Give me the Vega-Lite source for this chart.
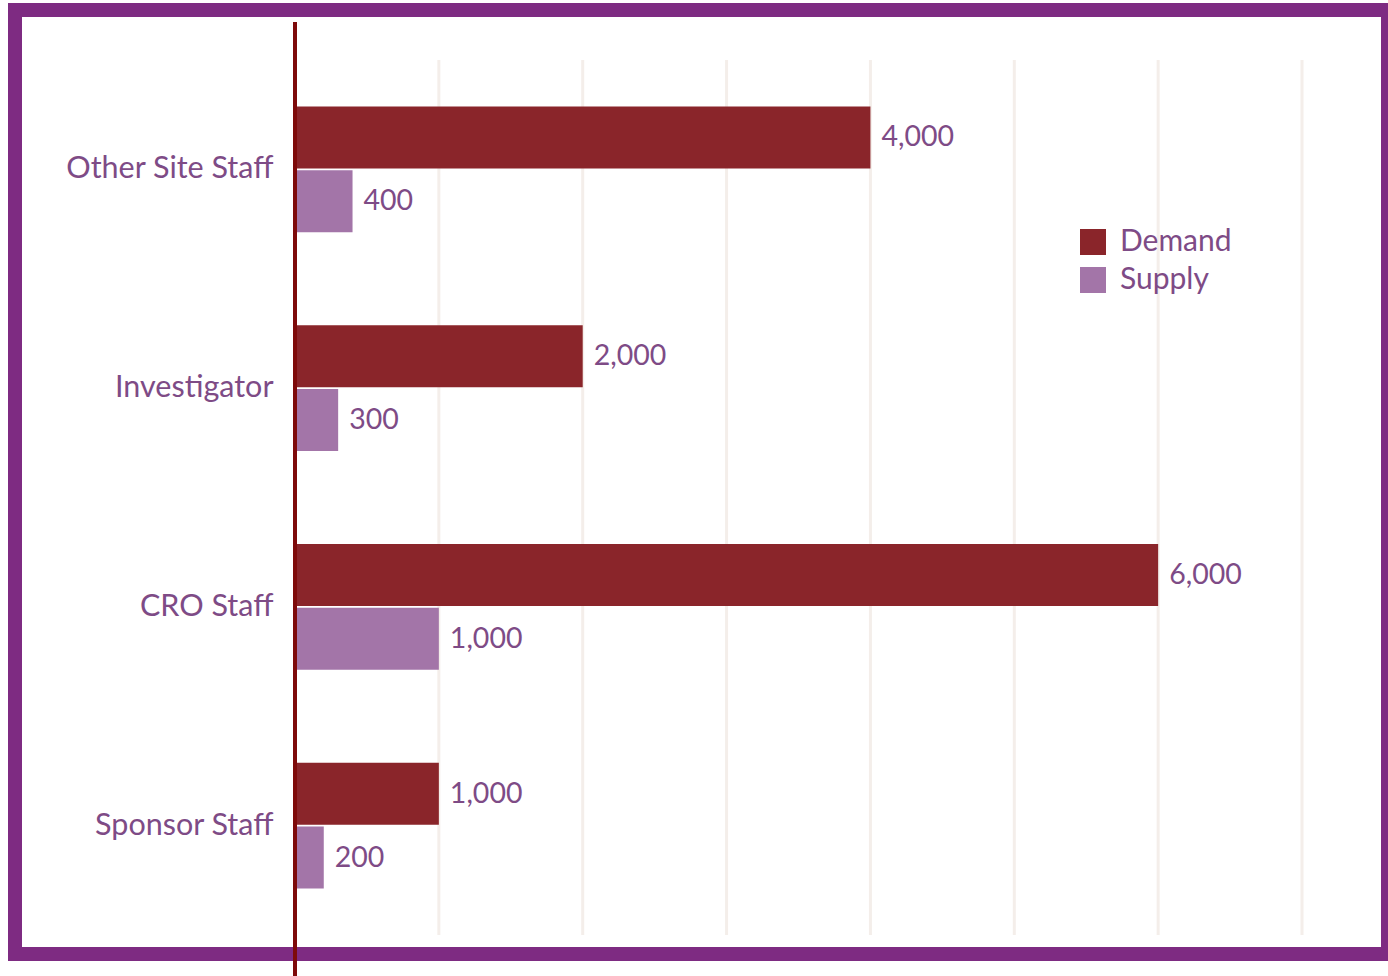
{
  "$schema": "https://vega.github.io/schema/vega-lite/v6.json",
  "autosize": {"type": "none"},
  "width": 1373,
  "height": 944,
  "padding": {"left": 15, "top": 10, "right": 0, "bottom": 22},
  "background": "white",
  "config": {
    "view": {"stroke": "#7E2B82", "strokeWidth": 14},
    "font": "Lato"
  },
  "datasets": {
    "bars": [
      {"role": "Other Site Staff", "series": "Demand", "value": 4000},
      {"role": "Other Site Staff", "series": "Supply", "value": 400},
      {"role": "Investigator", "series": "Demand", "value": 2000},
      {"role": "Investigator", "series": "Supply", "value": 300},
      {"role": "CRO Staff", "series": "Demand", "value": 6000},
      {"role": "CRO Staff", "series": "Supply", "value": 1000},
      {"role": "Sponsor Staff", "series": "Demand", "value": 1000},
      {"role": "Sponsor Staff", "series": "Supply", "value": 200}
    ],
    "grid": [
      {"v": 1000}, {"v": 2000}, {"v": 3000}, {"v": 4000}, {"v": 5000}, {"v": 6000}, {"v": 7000}
    ],
    "zero": [{"v": 0}]
  },
  "resolve": {"scale": {"y": "independent"}, "axis": {"y": "independent"}},
  "layer": [
    {
      "data": {"name": "grid"},
      "mark": {"type": "rule", "color": "#F4EEEA", "strokeWidth": 3},
      "encoding": {
        "x": {"field": "v", "type": "quantitative", "scale": {"domain": [0, 7000], "range": [280, 1287]}, "axis": null},
        "y": {"datum": 0.053, "type": "quantitative", "scale": {"domain": [0, 1], "reverse": true, "nice": false, "zero": false}, "axis": null},
        "y2": {"datum": 0.98}
      }
    },
    {
      "data": {"name": "bars"},
      "layer": [
        {
          "mark": {"type": "bar"},
          "encoding": {
            "y": {"field": "role", "type": "nominal", "sort": ["Other Site Staff", "Investigator", "CRO Staff", "Sponsor Staff"],
                  "scale": {"range": [50, 925], "paddingInner": 0.425, "paddingOuter": 0.2125},
                  "axis": {"orient": "left", "title": null, "offset": -280, "domain": false, "ticks": false, "labelPadding": 22, "labelFontSize": 30.5, "labelLimit": 400, "labelColor": "#7E4B86", "labelFont": "Lato"}},
            "yOffset": {"field": "series", "type": "nominal", "scale": {"domain": ["Demand", "Supply"], "paddingInner": 0.03}},
            "x": {"field": "value", "type": "quantitative", "scale": {"domain": [0, 7000], "range": [280, 1287]}, "axis": null},
            "color": {"field": "series", "type": "nominal", "scale": {"domain": ["Demand", "Supply"], "range": ["#8A252A", "#A375A8"]},
                      "legend": {"title": null, "orient": "none", "legendX": 1063, "legendY": 217, "symbolType": "square", "symbolSize": 676, "symbolStrokeWidth": 0, "symbolOpacity": 1, "labelFontSize": 30, "labelColor": "#7E4B86", "labelFont": "Lato", "rowPadding": 8, "labelOffset": 12}}
          }
        },
        {
          "mark": {"type": "text", "align": "left", "baseline": "middle", "dx": 11, "fontSize": 28.5, "color": "#7E4B86", "font": "Lato"},
          "encoding": {
            "y": {"field": "role", "type": "nominal", "sort": ["Other Site Staff", "Investigator", "CRO Staff", "Sponsor Staff"],
                  "scale": {"range": [50, 925], "paddingInner": 0.425, "paddingOuter": 0.2125}},
            "yOffset": {"field": "series", "type": "nominal", "scale": {"domain": ["Demand", "Supply"], "paddingInner": 0.03}},
            "x": {"field": "value", "type": "quantitative", "scale": {"domain": [0, 7000], "range": [280, 1287]}, "axis": null},
            "text": {"field": "value", "type": "quantitative", "format": ","}
          }
        }
      ]
    },
    {
      "data": {"name": "zero"},
      "mark": {"type": "rule", "color": "#7E0A0A", "strokeWidth": 4},
      "encoding": {
        "x": {"field": "v", "type": "quantitative", "scale": {"domain": [0, 7000], "range": [280, 1287]}, "axis": null},
        "y": {"datum": 0.0127, "type": "quantitative", "scale": {"domain": [0, 1], "reverse": true, "nice": false, "zero": false}, "axis": null},
        "y2": {"datum": 1.0233}
      }
    }
  ]
}
